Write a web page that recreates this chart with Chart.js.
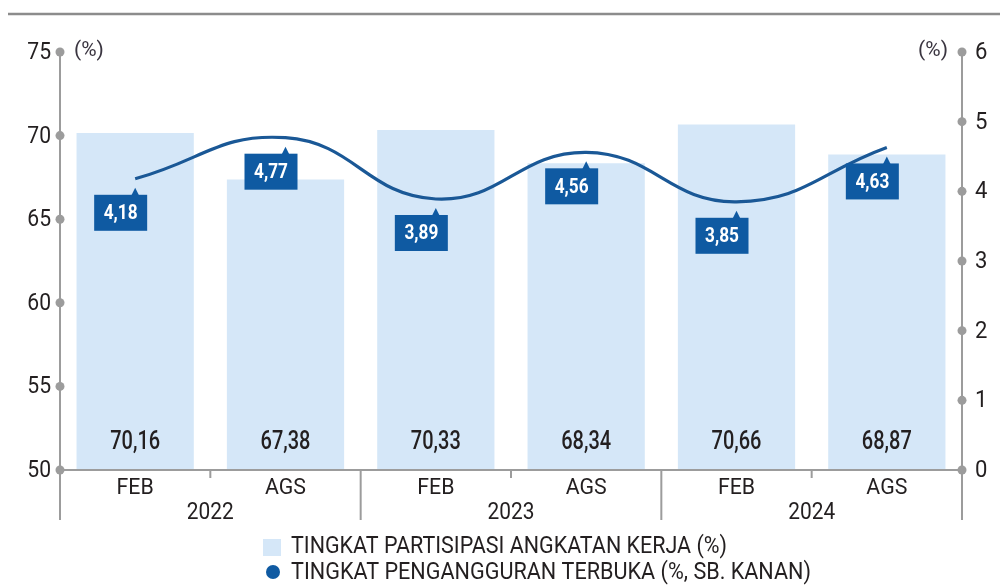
<!DOCTYPE html>
<html>
<head>
<meta charset="utf-8">
<script src="https://cdn.jsdelivr.net/npm/chart.js@4"></script>
<style>
  html, body { margin: 0; padding: 0; background: #fff; }
  #wrap { width: 1000px; height: 588px; position: relative; }
</style>
</head>
<body>
<div id="wrap"><canvas id="chart"></canvas></div>
<script>
// Labour force participation vs open unemployment, Feb/Aug 2022-2024

const categories = ["FEB", "AGS", "FEB", "AGS", "FEB", "AGS"];
const years = ["2022", "2023", "2024"];
const tpak = [70.16, 67.38, 70.33, 68.34, 70.66, 68.87];   // left axis
const tpt = [4.18, 4.77, 3.89, 4.56, 3.85, 4.63];          // right axis
const leftTicks = [50, 55, 60, 65, 70, 75];
const rightTicks = [0, 1, 2, 3, 4, 5, 6];
const legendLabels = [
  "TINGKAT PARTISIPASI ANGKATAN KERJA (%)",
  "TINGKAT PENGANGGURAN TERBUKA (%, SB. KANAN)"
];

const FONT = 'Roboto, "Noto Sans", sans-serif';
const AXIS_GREY = "#9c9c9c";
const TEXT = "#231f20";
const BAR_FILL = "#d5e7f8";
const LINE_BLUE = "#1a5896";
const BOX_BLUE = "#0f5aa2";

const fmt = (v) => v.toFixed(2).replace(".", ",");

// canvas text squeezed horizontally to mimic the condensed print face
function drawText(ctx, text, x, y, size, weight, align, sx, fitWidth) {
  ctx.save();
  ctx.font = weight + " " + size + "px " + FONT;
  ctx.textBaseline = "middle";
  ctx.textAlign = "left";
  const w = ctx.measureText(text).width;
  const s = fitWidth ? fitWidth / w : sx;
  const sw = w * s;
  let left = x;
  if (align === "center") left = x - sw / 2;
  else if (align === "right") left = x - sw;
  ctx.translate(left, y);
  ctx.scale(s, 1);
  ctx.fillText(text, 0, 0);
  ctx.restore();
}

// ----------------- Custom drawing ----------------
const decor = {
  id: "decor",
  afterDatasetsDraw(chart) {
    const { ctx, chartArea: a, scales } = chart;
    const x = scales.x, yL = scales.yL, yR = scales.yR;
    const bottom = a.bottom;
    const tickEnd = bottom + 50;

    ctx.save();

    // top rule
    ctx.strokeStyle = "#8c8c8c";
    ctx.lineWidth = 2.5;
    ctx.beginPath();
    ctx.moveTo(8, 14);
    ctx.lineTo(1000, 14);
    ctx.stroke();

    // bar value labels
    ctx.fillStyle = TEXT;
    tpak.forEach((v, i) => {
      drawText(ctx, fmt(v), x.getPixelForValue(i), bottom - 27, 25, "500", "center", 0.8);
    });

    // axis lines
    ctx.strokeStyle = AXIS_GREY;
    ctx.lineWidth = 2;
    ctx.beginPath();
    ctx.moveTo(a.left, yL.getPixelForValue(75));
    ctx.lineTo(a.left, tickEnd);
    ctx.moveTo(a.right, yR.getPixelForValue(6));
    ctx.lineTo(a.right, tickEnd);
    ctx.moveTo(a.left, bottom);
    ctx.lineTo(a.right, bottom);
    // year separators (long) and month separators (short)
    const step = (a.right - a.left) / categories.length;
    for (let i = 1; i < categories.length; i++) {
      const px = a.left + step * i;
      ctx.moveTo(px, bottom);
      ctx.lineTo(px, i % 2 === 0 ? tickEnd : bottom + 8);
    }
    ctx.stroke();

    // axis dots
    ctx.fillStyle = AXIS_GREY;
    leftTicks.forEach((t) => {
      ctx.beginPath();
      ctx.arc(a.left, yL.getPixelForValue(t), 4.5, 0, Math.PI * 2);
      ctx.fill();
    });
    rightTicks.forEach((t) => {
      ctx.beginPath();
      ctx.arc(a.right, yR.getPixelForValue(t), 4.5, 0, Math.PI * 2);
      ctx.fill();
    });

    // tick labels
    ctx.fillStyle = TEXT;
    leftTicks.forEach((t) => drawText(ctx, String(t), a.left - 9, yL.getPixelForValue(t) + 1, 24, "400", "right", 0.88));
    rightTicks.forEach((t) => drawText(ctx, String(t), a.right + 13, yR.getPixelForValue(t) + 1, 24, "400", "left", 0.92));

    // unit labels
    ctx.fillStyle = "#3a3540";
    drawText(ctx, "(%)", a.left + 14, yL.getPixelForValue(75) - 1, 21, "400", "left", 1.0);
    drawText(ctx, "(%)", a.right - 14, yR.getPixelForValue(6) - 1, 21, "400", "right", 1.0);

    // x labels
    ctx.fillStyle = TEXT;
    categories.forEach((c, i) => drawText(ctx, c, x.getPixelForValue(i), bottom + 18, 22, "400", "center", 0.97));
    years.forEach((y, i) => {
      const cx = (x.getPixelForValue(i * 2) + x.getPixelForValue(i * 2 + 1)) / 2;
      drawText(ctx, y, cx, bottom + 43, 24, "400", "center", 0.87);
    });

    // value boxes for the line
    const line = chart.getDatasetMeta(1);
    line.data.forEach((pt, i) => {
      const px = pt.x, py = pt.y;
      const bw = 53, bh = 36;
      const bx = px - 41;
      const by = py + 16;
      ctx.fillStyle = BOX_BLUE;
      ctx.beginPath();
      ctx.moveTo(px - 4, by + 1);
      ctx.lineTo(px, by - 7);
      ctx.lineTo(px + 4, by + 1);
      ctx.closePath();
      ctx.fill();
      ctx.fillRect(bx, by, bw, bh);
      ctx.fillStyle = "#fff";
      drawText(ctx, fmt(tpt[i]), bx + bw / 2, by + bh / 2 + 1, 21, "bold", "center", 0.82);
    });

    // legend
    ctx.fillStyle = BAR_FILL;
    ctx.fillRect(263, 539, 18, 17);
    ctx.fillStyle = BOX_BLUE;
    ctx.beginPath();
    ctx.arc(273, 572, 7, 0, Math.PI * 2);
    ctx.fill();
    ctx.fillStyle = TEXT;
    drawText(ctx, legendLabels[0], 291, 547, 24, "400", "left", 1, 436);
    drawText(ctx, legendLabels[1], 291, 573, 24, "400", "left", 1, 520);

    ctx.restore();
  }
};

// ----------------- Chart ----------------
new Chart(document.getElementById("chart"), {
  data: {
    labels: categories,
    datasets: [
      {
        type: "bar",
        label: legendLabels[0],
        data: tpak,
        yAxisID: "yL",
        backgroundColor: BAR_FILL,
        barPercentage: 0.78,
        categoryPercentage: 1,
        order: 2
      },
      {
        type: "line",
        label: legendLabels[1],
        data: tpt,
        yAxisID: "yR",
        borderColor: LINE_BLUE,
        borderWidth: 3.2,
        tension: 0.45,
        pointRadius: 0,
        fill: false,
        order: 1
      }
    ]
  },
  options: {
    responsive: true,
    maintainAspectRatio: false,
    animation: false,
    layout: { padding: { left: 60, right: 38, top: 52, bottom: 118 } },
    plugins: { legend: { display: false }, tooltip: { enabled: false } },
    scales: {
      x: { display: false, offset: true },
      yL: { display: false, position: "left", min: 50, max: 75 },
      yR: { display: false, position: "right", min: 0, max: 6, grid: { drawOnChartArea: false } }
    }
  },
  plugins: [decor]
});
</script>
</body>
</html>
